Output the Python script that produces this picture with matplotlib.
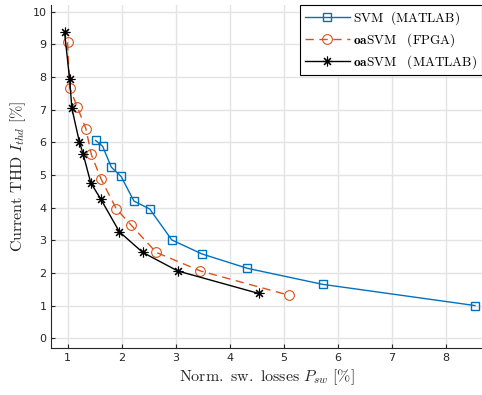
import numpy as np
import matplotlib
matplotlib.use("Agg")
import matplotlib.pyplot as plt

plt.rcParams['mathtext.fontset'] = 'cm'

# SVM (MATLAB)
svm_x = np.array([1.52, 1.65, 1.81, 1.99, 2.23, 2.52, 2.93, 3.49, 4.33, 5.72, 8.54])
svm_y = np.array([6.06, 5.88, 5.24, 4.96, 4.20, 3.96, 3.01, 2.58, 2.14, 1.65, 1.00])
# oaSVM (FPGA)
fpga_x = np.array([1.00, 1.04, 1.18, 1.34, 1.44, 1.62, 1.90, 2.18, 2.64, 3.46, 5.09])
fpga_y = np.array([9.07, 7.67, 7.09, 6.42, 5.63, 4.88, 3.97, 3.46, 2.63, 2.06, 1.32])
# oaSVM (MATLAB)
oam_x = np.array([0.945, 1.04, 1.08, 1.22, 1.29, 1.43, 1.62, 1.96, 2.39, 3.04, 4.54])
oam_y = np.array([9.37, 7.93, 7.05, 6.01, 5.64, 4.76, 4.25, 3.26, 2.63, 2.06, 1.37])

xticks = [1, 2, 3, 4, 5, 6, 7, 8]
yticks = list(range(0, 11))

fig = plt.figure(figsize=(4.82, 3.95), dpi=100)
ax = fig.add_axes([51.3/482, 46.7/395, (482-51.3)/482, (348.3-5)/395])

ax.plot(svm_x, svm_y, '-s', color='#0072BD', lw=1.0, ms=5.5, mfc='none', mew=1.0,
        label=r'$\mathrm{SVM\ \ (MATLAB)}$')
ax.plot(fpga_x, fpga_y, '--o', color='#D95319', lw=1.0, ms=7, mfc='none', mew=0.8,
        dashes=(6, 4), label=r'$\mathbf{oa}\mathrm{SVM\ \ \ (FPGA)}$')
ax.plot(oam_x, oam_y, '-', color='black', lw=1.0, marker=(8, 2, 0), ms=7, mew=0.8,
        label=r'$\mathbf{oa}\mathrm{SVM\ \ \ (MATLAB)}$')

ax.set_xlim(0.7, 8.67)
ax.set_ylim(-0.31, 10.21)
ax.set_xticks(xticks)
ax.set_yticks(yticks)
ax.grid(True, color='#E3E3E3', lw=1.0)
ax.set_axisbelow(True)
for s in ['top', 'right']:
    ax.spines[s].set_visible(False)
for s in ['left', 'bottom']:
    ax.spines[s].set_color('#262626')
    ax.spines[s].set_linewidth(0.8)
ax.tick_params(direction='in', length=3, colors='#262626', labelsize=8)

ax.set_xlabel(r'$\mathrm{Norm.\ sw.\ losses}\ P_{sw}\ [\%]$', fontsize=11.5, color='#262626', labelpad=3)
ax.set_ylabel(r'$\mathrm{Current\ THD}\ I_{thd}\ [\%]$', fontsize=11.5, color='#262626', labelpad=3)

leg = ax.legend(loc='upper right', bbox_to_anchor=(1.0, 1.0), fontsize=9.5, fancybox=False,
                edgecolor='black', framealpha=1, borderaxespad=0.0, handlelength=3.4,
                handletextpad=0.3, labelspacing=0.3, borderpad=0.35)
leg.get_frame().set_linewidth(0.8)

fig.savefig('out.png', dpi=100)
